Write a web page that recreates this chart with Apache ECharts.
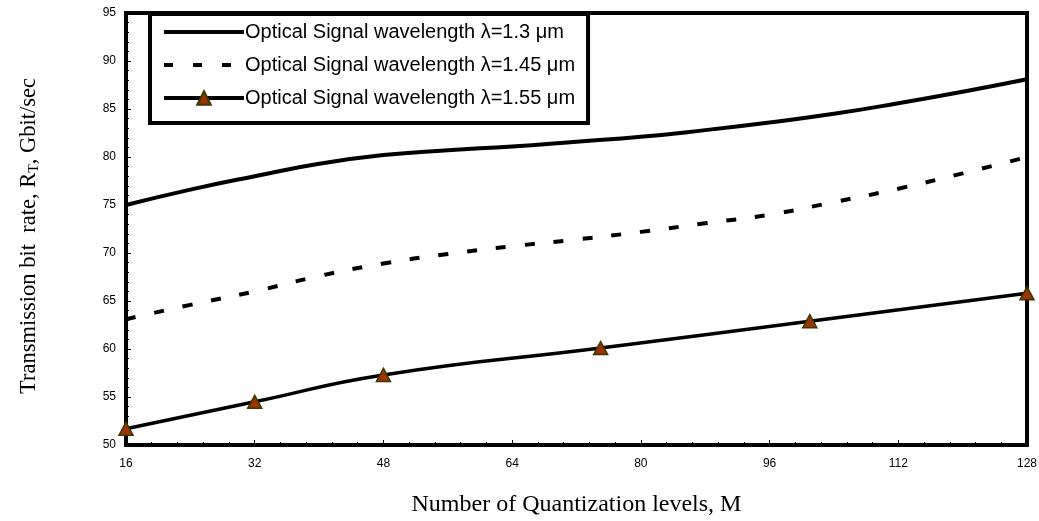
<!DOCTYPE html>
<html>
<head>
<meta charset="utf-8">
<script src="https://cdn.jsdelivr.net/npm/echarts@6/dist/echarts.min.js"></script>
<style>html,body{margin:0;padding:0;background:#fff}#c{width:1039px;height:521px}</style>
</head>
<body>
<div id="c"></div>
<script>
const seriesNames = [
  'Optical Signal wavelength \u03bb=1.3 \u03bcm',
  'Optical Signal wavelength \u03bb=1.45 \u03bcm',
  'Optical Signal wavelength \u03bb=1.55 \u03bcm'
];
const mLevels = [16, 24, 32, 40, 48, 56, 64, 72, 80, 88, 96, 104, 112, 120, 128];
const rate13 = [75.0, 76.6, 78.0, 79.3, 80.2, 80.7, 81.1, 81.6, 82.1, 82.8, 83.6, 84.5, 85.6, 86.8, 88.1];
const rate145 = [63.1, 64.6, 66.0, 67.6, 68.9, 69.9, 70.7, 71.4, 72.2, 73.1, 74.0, 75.3, 76.7, 78.3, 80.0];
const mLevels155 = [16, 32, 48, 75, 101, 128];
const rate155 = [51.7, 54.5, 57.3, 60.1, 62.9, 65.8];

const pair = (xs, ys) => xs.map((x, i) => [x, ys[i]]);
const chart = echarts.init(document.getElementById('c'), null, {renderer: 'canvas'});
const labelFont = {fontFamily: 'Liberation Sans, Arial, sans-serif', fontSize: 12, color: '#000'};
chart.setOption({
  animation: false,
  backgroundColor: '#fff',
  grid: {left: 126, right: 12, top: 13, bottom: 76, outerBoundsMode: 'none', containLabel: false,
    show: true, borderColor: '#000', borderWidth: 4, backgroundColor: 'transparent'},
  legend: {
    orient: 'vertical', left: 150, top: 14,
    padding: [8, 13, 15, 12],
    itemWidth: 80, itemHeight: 17, itemGap: 13,
    borderColor: '#000', borderWidth: 4, backgroundColor: '#fff',
    textStyle: {fontFamily: 'Liberation Sans, Arial, sans-serif', fontSize: 20, color: '#000', padding: [0, 0, 0, -4]},
    data: [
      {name: seriesNames[0], itemStyle: {opacity: 0}, lineStyle: {width: 4}},
      {name: seriesNames[1], itemStyle: {opacity: 0}, lineStyle: {width: 4, type: [9, 20]}},
      {name: seriesNames[2], lineStyle: {width: 4}}
    ]
  },
  xAxis: {
    type: 'value', min: 16, max: 128, interval: 16,
    name: 'Number of Quantization levels, M', nameLocation: 'middle', nameGap: 48,
    nameTextStyle: {fontFamily: 'Liberation Serif, Times New Roman, serif', fontSize: 24, color: '#000'},
    axisLine: {lineStyle: {color: '#000', width: 4}},
    axisTick: {inside: true, length: 5, lineStyle: {color: '#000', width: 1}},
    minorTick: {show: true, splitNumber: 5, length: 3, lineStyle: {color: '#000', width: 1}},
    axisLabel: Object.assign({margin: 13}, labelFont),
    splitLine: {show: false}
  },
  yAxis: {
    type: 'value', min: 50, max: 95, interval: 5,
    name: 'Transmission bit  rate, R{sub|T}, Gbit/sec', nameLocation: 'middle', nameRotate: 90, nameGap: 85,
    nameTextStyle: {fontFamily: 'Liberation Serif, Times New Roman, serif', fontSize: 22.5, color: '#000', padding: [0, 14, 0, 0],
      rich: {sub: {fontFamily: 'Liberation Serif, Times New Roman, serif', fontSize: 14, color: '#000', verticalAlign: 'bottom', padding: [9, 0, 0, 0]}}},
    axisLine: {lineStyle: {color: '#000', width: 4}},
    axisTick: {inside: true, length: 5, lineStyle: {color: '#000', width: 1}},
    minorTick: {show: true, splitNumber: 5, length: 3, lineStyle: {color: '#000', width: 1}},
    axisLabel: Object.assign({margin: 10}, labelFont),
    splitLine: {show: false}
  },
  series: [
    {name: seriesNames[0], type: 'line', data: pair(mLevels, rate13), smooth: true, symbol: 'none',
      lineStyle: {color: '#000', width: 4}, itemStyle: {color: '#000'}},
    {name: seriesNames[1], type: 'line', data: pair(mLevels, rate145), smooth: true, symbol: 'none',
      lineStyle: {color: '#000', width: 4, type: [10, 19]}, itemStyle: {color: '#000'}},
    {name: seriesNames[2], type: 'line', data: pair(mLevels155, rate155), smooth: true, symbol: 'triangle', symbolSize: [14, 13],
      showSymbol: true,
      lineStyle: {color: '#000', width: 3.5}, itemStyle: {color: '#9C3200', borderColor: '#3A3800', borderWidth: 1.5}}
  ]
});
</script>
</body>
</html>
